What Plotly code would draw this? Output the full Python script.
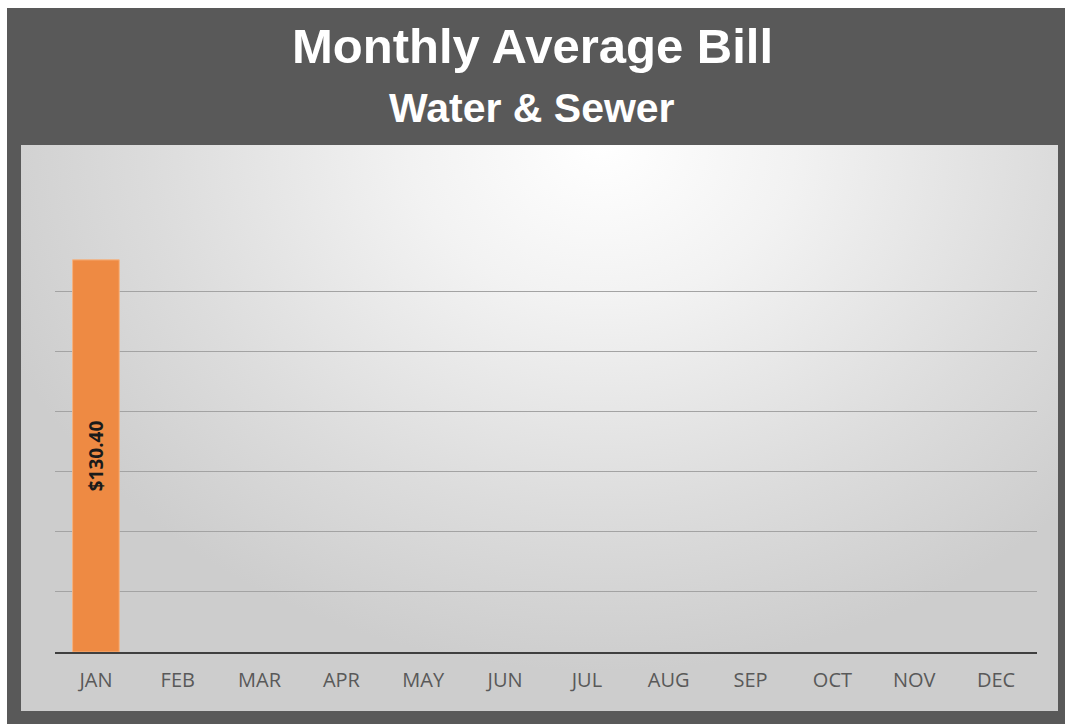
import base64
import plotly.graph_objects as go

months = ["JAN", "FEB", "MAR", "APR", "MAY", "JUN", "JUL", "AUG", "SEP", "OCT", "NOV", "DEC"]
avg_bill = [130.40, None, None, None, None, None, None, None, None, None, None, None]
title_text = "Monthly Average Bill"
subtitle_text = "Water & Sewer"

W, H = 1065, 724
ML, MR, MT, MB = 55, 28, 231, 72
PW, PH = W - ML - MR, H - MT - MB


def px(x):
    return (x - ML) / PW


def py(y):
    return (H - MB - y) / PH


svg = (
    '<svg xmlns="http://www.w3.org/2000/svg" width="1036" height="567" '
    'viewBox="0 0 1036 567" preserveAspectRatio="none">'
    '<defs><radialGradient id="g" cx="0.56" cy="0.0" r="0.62" '
    'gradientTransform="translate(0.56,0) scale(1,1.5) translate(-0.56,0)">'
    '<stop offset="0" stop-color="#ffffff"/>'
    '<stop offset="0.3" stop-color="#f2f2f2"/>'
    '<stop offset="0.7" stop-color="#dcdcdc"/>'
    '<stop offset="1" stop-color="#cdcdcd"/>'
    '</radialGradient></defs>'
    '<rect width="1036" height="567" fill="url(#g)"/></svg>'
)
svg_uri = "data:image/svg+xml;base64," + base64.b64encode(svg.encode()).decode()

fig = go.Figure()
fig.add_trace(go.Bar(
    x=months,
    y=avg_bill,
    marker=dict(color="#EE8A43", line=dict(color="#F6B27F", width=1)),
    width=0.57,
    texttemplate="$%{y:.2f}",
    textposition="inside",
    insidetextanchor="middle",
    textangle=-90,
    textfont=dict(family="Open Sans", size=19, color="#1a1a1a", weight="bold"),
    hoverinfo="skip",
    cliponaxis=False,
))

fig.add_layout_image(dict(
    source=svg_uri,
    xref="paper", yref="paper",
    x=px(21), y=py(145),
    sizex=(1058 - 21) / PW, sizey=(711 - 145) / PH,
    xanchor="left", yanchor="top",
    sizing="stretch", layer="below",
))

shapes = [
    dict(type="rect", xref="paper", yref="paper", x0=px(0), x1=px(W), y0=py(0), y1=py(8),
         fillcolor="white", line=dict(width=0), layer="below"),
    dict(type="rect", xref="paper", yref="paper", x0=px(0), x1=px(7), y0=py(0), y1=py(H),
         fillcolor="white", line=dict(width=0), layer="below"),
]

title_font = "Liberation Sans, Arial, sans-serif"
annotations = [
    dict(text=title_text, xref="paper", yref="paper",
         x=px(532), y=py(46), xanchor="center", yanchor="middle", showarrow=False,
         font=dict(family=title_font, size=49, color="white", weight="bold")),
    dict(text=subtitle_text, xref="paper", yref="paper",
         x=px(532), y=py(108), xanchor="center", yanchor="middle", showarrow=False,
         font=dict(family=title_font, size=41, color="white", weight="bold")),
]

fig.update_layout(
    width=W, height=H,
    margin=dict(l=ML, r=MR, t=MT, b=MB, pad=0),
    paper_bgcolor="#595959",
    plot_bgcolor="rgba(0,0,0,0)",
    showlegend=False,
    shapes=shapes,
    annotations=annotations,
    bargap=0.43,
    xaxis=dict(
        type="category",
        categoryorder="array", categoryarray=months,
        range=[-0.5, 11.5],
        showline=True, linecolor="#3f3f3f", linewidth=2,
        showgrid=False, zeroline=False,
        ticks="", ticklabelstandoff=9,
        tickfont=dict(family="Open Sans", size=20, color="#595959"),
        fixedrange=True,
    ),
    yaxis=dict(
        range=[0, 140], dtick=20, tick0=0,
        showgrid=True, gridcolor="#a3a3a3", gridwidth=1,
        zeroline=False, showticklabels=False, showline=False,
        fixedrange=True,
    ),
)

post = "document.body.style.margin='0';document.body.style.overflow='hidden';"

fig.write_html(
    "out.html",
    config={"displayModeBar": False},
    post_script=post,
)
